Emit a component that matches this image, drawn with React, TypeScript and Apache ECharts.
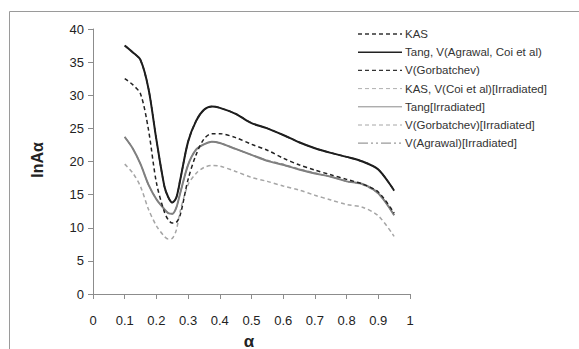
import React, { useEffect, useRef } from "react";
import * as echarts from "echarts";

const alpha = [0.1, 0.125, 0.15, 0.175, 0.2, 0.225, 0.2375, 0.25, 0.2625, 0.275, 0.3, 0.325, 0.35, 0.375, 0.4, 0.45, 0.5, 0.55, 0.6, 0.65, 0.7, 0.75, 0.8, 0.85, 0.9, 0.95];

const kas = [37.5, 36.5, 35.3, 31.0, 23.3, 16.3, 14.6, 13.8, 14.5, 17.2, 23.0, 26.1, 27.8, 28.3, 28.1, 27.2, 25.8, 25.0, 24.0, 22.9, 22.0, 21.3, 20.7, 20.0, 18.8, 15.6];
const tang = [37.5, 36.5, 35.3, 31.0, 23.3, 16.3, 14.6, 13.8, 14.5, 17.2, 23.0, 26.1, 27.8, 28.3, 28.1, 27.2, 25.8, 25.0, 24.0, 22.9, 22.0, 21.3, 20.7, 20.0, 18.8, 15.6];
const vGorb = [32.5, 31.6, 30.2, 24.8, 16.8, 12.4, 11.2, 10.7, 10.8, 11.9, 17.3, 21.0, 23.4, 24.2, 24.2, 23.6, 22.6, 21.7, 20.5, 19.5, 18.7, 18.0, 17.3, 16.6, 15.4, 12.2];
const kasIrr = [23.7, 22.0, 19.6, 16.5, 14.3, 12.8, 12.2, 12.1, 13.0, 15.2, 19.5, 21.8, 22.6, 23.0, 22.8, 21.9, 21.0, 20.2, 19.6, 18.9, 18.3, 17.7, 17.0, 16.5, 15.1, 12.0];
const tangIrr = [23.7, 22.0, 19.6, 16.5, 14.3, 12.8, 12.2, 12.1, 13.0, 15.2, 19.5, 21.8, 22.6, 23.0, 22.8, 21.9, 21.0, 20.1, 19.5, 18.8, 18.2, 17.7, 17.0, 16.6, 15.2, 11.9];
const vGorbIrr = [19.6, 18.3, 16.2, 12.8, 10.3, 8.7, 8.3, 8.4, 9.6, 12.5, 16.5, 18.2, 19.1, 19.4, 19.3, 18.5, 17.6, 17.0, 16.3, 15.7, 14.9, 14.2, 13.5, 13.1, 11.8, 8.7];
const vAgrIrr = [23.7, 22.0, 19.6, 16.5, 14.3, 12.8, 12.2, 12.1, 13.0, 15.2, 19.5, 21.8, 22.6, 23.0, 22.8, 21.9, 21.0, 20.1, 19.5, 18.8, 18.2, 17.7, 17.0, 16.6, 15.2, 11.9];

const seriesNames = [
  "KAS",
  "Tang, V(Agrawal, Coi et al)",
  "V(Gorbatchev)",
  "KAS, V(Coi et al)[Irradiated]",
  "Tang[Irradiated]",
  "V(Gorbatchev)[Irradiated]",
  "V(Agrawal)[Irradiated]",
];

const pair = (vals: number[]) => alpha.map((a, i) => [a, vals[i]]);

export default function App() {
  const ref = useRef<HTMLDivElement>(null);
  useEffect(() => {
    if (!ref.current) return;
    const chart = echarts.init(ref.current, null, { renderer: "svg" });
    const styles = [
      { color: "#222", width: 1.5, dash: [4, 3], legendColor: "#333", legendWidth: 1.3, data: kas },
      { color: "#1a1a1a", width: 2, dash: null, legendColor: "#222", legendWidth: 1.5, data: tang },
      { color: "#222", width: 1.5, dash: [4, 3], legendColor: "#333", legendWidth: 1.3, data: vGorb },
      { color: "#9a9a9a", width: 1.2, dash: [4, 3], legendColor: "#b0b0b0", legendWidth: 1, data: kasIrr },
      { color: "#808080", width: 2, dash: null, legendColor: "#8a8a8a", legendWidth: 1, data: tangIrr },
      { color: "#a6a6a6", width: 1.5, dash: [4, 3], legendColor: "#a6a6a6", legendWidth: 1, data: vGorbIrr },
      { color: "#8a8a8a", width: 1.2, dash: [10, 3, 2, 3, 2, 3], legendColor: "#9a9a9a", legendWidth: 1.2, data: vAgrIrr },
    ];
    const drawOrder = [5, 3, 6, 4, 2, 1, 0];
    const series = drawOrder.map((i, k) => ({
      name: seriesNames[i],
      type: "line",
      data: pair(styles[i].data),
      smooth: 0.3,
      showSymbol: false,
      symbol: "none",
      z: 2 + k,
      lineStyle: { color: styles[i].color, width: styles[i].width, type: styles[i].dash || "solid" },
      itemStyle: { color: styles[i].color },
    }));
    const legendGraphics: any[] = [];
    seriesNames.forEach((name, i) => {
      const y = 34 + i * 18.2;
      legendGraphics.push({
        type: "line",
        shape: { x1: 358, y1: y, x2: 402, y2: y },
        style: { stroke: styles[i].legendColor, lineWidth: styles[i].legendWidth, lineDash: styles[i].dash || undefined },
        silent: true,
      });
      legendGraphics.push({
        type: "text",
        x: 405,
        y,
        style: { text: name, fontSize: 11.5, fill: "#333", fontFamily: "Liberation Sans", verticalAlign: "middle", align: "left" },
        silent: true,
      });
    });
    chart.setOption({
      animation: false,
      backgroundColor: "#fff",
      grid: { left: 93, top: 29, right: 169, bottom: 55, containLabel: false },
      xAxis: {
        type: "value",
        min: 0,
        max: 1,
        interval: 0.1,
        splitLine: { show: false },
        axisLine: { lineStyle: { color: "#8c8c8c", width: 1 } },
        axisTick: { show: true, length: 5, lineStyle: { color: "#8c8c8c" } },
        axisLabel: { margin: 20, fontSize: 13, color: "#222", fontFamily: "Liberation Sans", formatter: (v: number) => String(Math.round(v * 10) / 10) },
      },
      yAxis: {
        type: "value",
        min: 0,
        max: 40,
        interval: 5,
        splitLine: { show: false },
        axisLine: { show: true, lineStyle: { color: "#8c8c8c", width: 1 } },
        axisTick: { show: true, length: 5, lineStyle: { color: "#8c8c8c" } },
        axisLabel: { margin: 9, fontSize: 13, color: "#222", fontFamily: "Liberation Sans" },
      },
      graphic: [
        { type: "rect", shape: { x: 9.5, y: 11.5, width: 700, height: 500 }, style: { fill: "none", stroke: "#9a9a9a", lineWidth: 1 }, silent: true },
        { type: "text", x: 37, y: 160, rotation: Math.PI / 2, style: { text: "lnAα", fontSize: 16, fontWeight: "bold", fill: "#222", fontFamily: "Liberation Sans", align: "center", verticalAlign: "middle" } },
        { type: "text", x: 249, y: 341, style: { text: "α", fontSize: 17, fontWeight: "bold", fill: "#222", fontFamily: "Liberation Sans", align: "center", verticalAlign: "middle" } },
        ...legendGraphics,
      ],
      series,
    });
    return () => chart.dispose();
  }, []);
  return <div ref={ref} style={{ width: 579, height: 349, position: "absolute", left: 0, top: 0 }} />;
}
